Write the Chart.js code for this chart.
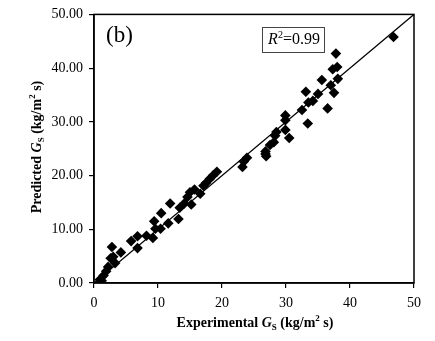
<!DOCTYPE html>
<html lang="en">
<head>
<meta charset="UTF-8">
<title>Predicted vs Experimental Gs</title>
<script src="https://cdn.jsdelivr.net/npm/chart.js@4.4.0/dist/chart.umd.min.js"></script>
<style>
  body { margin: 0; background: #fff; }
  #wrap { width: 435px; height: 341px; }
</style>
</head>
<body>
<div id="wrap"><canvas id="graphCanvas"></canvas></div>
<script>
// experimental Gs (x) and predicted Gs (y), kg/m2 s
var expGs  = [46.8, 37.8, 38.0, 37.3, 38.1, 35.6, 37.0, 37.5, 35.0, 33.1, 34.2, 33.5, 32.5, 36.5, 33.4,
              29.9, 29.9, 29.9, 30.5, 28.5, 28.3, 28.1, 27.5, 26.8, 26.8, 26.9, 23.9, 23.4, 23.2,
              19.2, 18.6, 18.1, 17.5, 17.1, 16.6, 15.7, 15.0, 14.6, 15.2, 14.1, 13.4, 13.2, 11.9, 11.6,
              10.5, 10.4, 9.4, 9.6, 9.2, 8.2, 6.8, 5.8, 6.8, 4.2, 2.8, 3.0, 3.3, 2.6, 2.2, 1.9, 1.5, 0.9, 1.2];
var predGs = [45.8, 42.7, 40.2, 39.8, 38.0, 37.8, 36.8, 35.4, 35.2, 35.6, 33.9, 33.6, 32.2, 32.5, 29.7,
              31.2, 30.3, 28.5, 27.0, 28.1, 27.4, 26.2, 25.7, 24.5, 24.0, 23.6, 23.3, 22.6, 21.6,
              20.7, 20.0, 19.4, 18.6, 18.1, 16.6, 17.4, 16.9, 16.0, 14.6, 14.8, 14.0, 11.9, 14.8, 11.1,
              13.0, 10.1, 11.5, 10.1, 8.4, 8.8, 8.7, 7.8, 6.5, 5.7, 6.7, 4.9, 3.7, 4.6, 3.0, 2.2, 1.4, 0.6, 0.4];
var lineEnds = [0, 50];
var tickStep = 10;

var pts = [];
for (var i in expGs) {
    pts.push({x: expGs[i], y: predGs[i]});
}
var diag = lineEnds.map(function (v) { return {x: v, y: v}; });

var serif = "'Liberation Serif', 'Times New Roman', serif";

// draws a line of mixed-style text, centred on (cx, cy)
function richText(ctx, parts, cx, cy, rot) {
    ctx.save();
    ctx.translate(cx, cy);
    if (rot) ctx.rotate(rot);
    ctx.textBaseline = 'alphabetic';
    ctx.fillStyle = '#000';
    var total = 0;
    parts.forEach(function (p) {
        ctx.font = p.font;
        p.w = ctx.measureText(p.t).width;
        total += p.w;
    });
    var x = -total / 2;
    parts.forEach(function (p) {
        ctx.font = p.font;
        ctx.fillText(p.t, x, 5 + (p.dy || 0));
        x += p.w;
    });
    ctx.restore();
}

var extras = {
    id: 'extras',
    afterDraw: function (chart) {
        var ctx = chart.ctx;
        var a = chart.chartArea;
        ctx.save();
        ctx.strokeStyle = '#000';
        ctx.lineWidth = 1.5;
        ctx.strokeRect(a.left, a.top, a.right - a.left, a.bottom - a.top);
        ctx.restore();

        var b = 'bold 14px ' + serif;
        var bi = 'italic bold 14px ' + serif;
        var small = 'bold 9px ' + serif;
        var title = [
            {t: 'G', font: bi}, {t: 'S', font: small, dy: 3},
            {t: ' (kg/m', font: b}, {t: '2', font: small, dy: -6}, {t: ' s)', font: b}
        ];
        richText(ctx, [{t: 'Experimental ', font: b}].concat(title), 255, 322, 0);
        richText(ctx, [{t: 'Predicted ', font: b}].concat(title.map(function (p) { return Object.assign({}, p); })), 36, 147, -Math.PI / 2);

        ctx.save();
        ctx.fillStyle = '#000';
        ctx.font = '23px ' + serif;
        ctx.textBaseline = 'middle';
        ctx.fillText('(b)', 106, 36);
        ctx.strokeStyle = '#444';
        ctx.lineWidth = 1;
        ctx.strokeRect(262.5, 27.5, 62, 25);
        ctx.restore();
        richText(ctx, [
            {t: 'R', font: 'italic 16px ' + serif}, {t: '2', font: '10px ' + serif, dy: -6},
            {t: '=0.99', font: '16px ' + serif}
        ], 294, 39, 0);
    }
};

new Chart(document.getElementById('graphCanvas'), {
    type: 'scatter',
    data: {
        datasets: [{
            data: pts,
            pointStyle: 'rectRot',
            pointRadius: 5.3,
            pointHoverRadius: 5.3,
            backgroundColor: '#000',
            borderColor: '#000',
            borderWidth: 0
        }, {
            type: 'line',
            data: diag,
            borderColor: '#000',
            borderWidth: 1.3,
            pointRadius: 0,
            fill: false
        }]
    },
    options: {
        responsive: true,
        maintainAspectRatio: false,
        animation: false,
        events: [],
        layout: { padding: { top: 13, right: 21, left: 0, bottom: 0 } },
        plugins: { legend: { display: false }, tooltip: { enabled: false } },
        scales: {
            x: {
                type: 'linear', min: 0, max: 50,
                afterFit: function (s) { s.height = 58; },
                grid: { drawOnChartArea: false, drawTicks: true, tickLength: 5, color: '#000', lineWidth: 1.2 },
                border: { display: true, color: '#000', width: 1.5 },
                ticks: { stepSize: tickStep, color: '#000', padding: 7, font: { family: serif, size: 14 } }
            },
            y: {
                type: 'linear', min: 0, max: 50,
                afterFit: function (s) { s.width = 94; },
                grid: { drawOnChartArea: false, drawTicks: true, tickLength: 5, color: '#000', lineWidth: 1.2 },
                border: { display: true, color: '#000', width: 1.5 },
                ticks: { stepSize: tickStep, color: '#000', padding: 6, font: { family: serif, size: 14 },
                         callback: function (v) { return v.toFixed(2); } }
            }
        }
    },
    plugins: [extras]
});
</script>
</body>
</html>
